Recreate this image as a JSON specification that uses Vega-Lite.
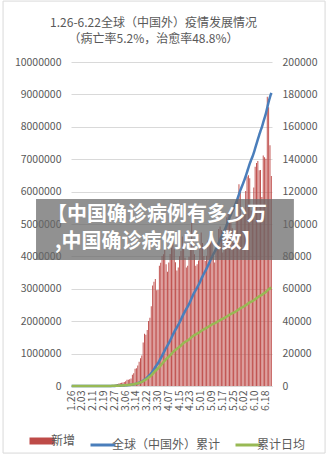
{
  "$schema": "https://vega.github.io/schema/vega-lite/v6.json",
  "width": 201,
  "height": 324,
  "autosize": {"type": "none"},
  "padding": {"left": 71, "top": 62, "right": 59, "bottom": 75},
  "background": "white",
  "config": {
    "view": {"stroke": null},
    "font": "Noto Sans CJK SC",
    "axis": {"labelFont": "Noto Sans CJK SC", "labelColor": "#595959", "labelFontSize": 10.5, "title": null}
  },
  "title": {
    "text": ["1.26-6.22全球（中国外）疫情发展情况", "（病亡率5.2%，治愈率48.8%）"],
    "fontSize": 12,
    "fontWeight": "normal",
    "color": "#595959",
    "font": "Noto Sans CJK SC",
    "lineHeight": 16,
    "anchor": "middle",
    "frame": "group",
    "dx": -18,
    "baseline": "bottom",
    "offset": -57
  },
  "datasets": {
    "main": [
      {"d":"1.26","n":12,"c":42,"a":42},{"d":"1.27","n":14,"c":56,"a":28},{"d":"1.28","n":8,"c":64,"a":21},{"d":"1.29","n":14,"c":78,"a":20},{"d":"1.30","n":16,"c":94,"a":19},{"d":"1.31","n":24,"c":118,"a":20},
      {"d":"2.01","n":14,"c":132,"a":19},{"d":"2.02","n":14,"c":146,"a":18},{"d":"2.03","n":7,"c":153,"a":17},{"d":"2.04","n":23,"c":176,"a":18},{"d":"2.05","n":15,"c":191,"a":17},{"d":"2.06","n":25,"c":216,"a":18},{"d":"2.07","n":54,"c":270,"a":21},{"d":"2.08","n":18,"c":288,"a":21},{"d":"2.09","n":19,"c":307,"a":20},{"d":"2.10","n":12,"c":319,"a":20},
      {"d":"2.11","n":76,"c":395,"a":23},{"d":"2.12","n":46,"c":441,"a":25},{"d":"2.13","n":6,"c":447,"a":24},{"d":"2.14","n":58,"c":505,"a":25},{"d":"2.15","n":21,"c":526,"a":25},{"d":"2.16","n":164,"c":690,"a":31},{"d":"2.17","n":104,"c":794,"a":35},{"d":"2.18","n":10,"c":804,"a":34},{"d":"2.19","n":120,"c":924,"a":37},{"d":"2.20","n":152,"c":1076,"a":41},
      {"d":"2.21","n":124,"c":1200,"a":44},{"d":"2.22","n":302,"c":1502,"a":54},{"d":"2.23","n":398,"c":1900,"a":66},{"d":"2.24","n":269,"c":2169,"a":72},{"d":"2.25","n":392,"c":2561,"a":83},{"d":"2.26","n":508,"c":3069,"a":96},{"d":"2.27","n":770,"c":3839,"a":116},{"d":"2.28","n":1015,"c":4854,"a":143},{"d":"2.29","n":1240,"c":6094,"a":174},
      {"d":"3.01","n":1600,"c":7694,"a":214},{"d":"3.02","n":1800,"c":9494,"a":257},{"d":"3.03","n":2050,"c":11544,"a":304},{"d":"3.04","n":2200,"c":13744,"a":352},{"d":"3.05","n":2450,"c":16194,"a":405},{"d":"3.06","n":3000,"c":19194,"a":468},{"d":"3.07","n":3800,"c":22994,"a":547},{"d":"3.08","n":3900,"c":26894,"a":625},{"d":"3.09","n":4200,"c":31094,"a":707},{"d":"3.10","n":4600,"c":35694,"a":793},
      {"d":"3.11","n":6900,"c":42594,"a":926},{"d":"3.12","n":7800,"c":50394,"a":1072},{"d":"3.13","n":10600,"c":60994,"a":1271},{"d":"3.14","n":10900,"c":71894,"a":1467},{"d":"3.15","n":12600,"c":84494,"a":1690},{"d":"3.16","n":14900,"c":99394,"a":1949},{"d":"3.17","n":17100,"c":116494,"a":2240},{"d":"3.18","n":18900,"c":135394,"a":2555},{"d":"3.19","n":26800,"c":162194,"a":3004},{"d":"3.20","n":32300,"c":194494,"a":3536},
      {"d":"3.21","n":31700,"c":226194,"a":4039},{"d":"3.22","n":34500,"c":260694,"a":4574},{"d":"3.23","n":40200,"c":300894,"a":5188},{"d":"3.24","n":42100,"c":342994,"a":5813},{"d":"3.25","n":49300,"c":392294,"a":6538},{"d":"3.26","n":62100,"c":454394,"a":7449},{"d":"3.27","n":64400,"c":518794,"a":8368},{"d":"3.28","n":66000,"c":584794,"a":9282},{"d":"3.29","n":59100,"c":643894,"a":10061},{"d":"3.30","n":59300,"c":703194,"a":10818},{"d":"3.31","n":74200,"c":777394,"a":11779},
      {"d":"4.01","n":76100,"c":853494,"a":12738},{"d":"4.02","n":80300,"c":933794,"a":13732},{"d":"4.03","n":81400,"c":1015194,"a":14713},{"d":"4.04","n":84400,"c":1099594,"a":15708},{"d":"4.05","n":75200,"c":1174794,"a":16546},{"d":"4.06","n":70600,"c":1245394,"a":17297},{"d":"4.07","n":76300,"c":1321694,"a":18105},{"d":"4.08","n":81500,"c":1403194,"a":18962},{"d":"4.09","n":85300,"c":1488494,"a":19847},{"d":"4.10","n":91200,"c":1579694,"a":20785},
      {"d":"4.11","n":84500,"c":1664194,"a":21613},{"d":"4.12","n":76400,"c":1740594,"a":22315},{"d":"4.13","n":71300,"c":1811894,"a":22935},{"d":"4.14","n":73200,"c":1885094,"a":23564},{"d":"4.15","n":80100,"c":1965194,"a":24262},{"d":"4.16","n":83400,"c":2048594,"a":24983},{"d":"4.17","n":92300,"c":2140894,"a":25794},{"d":"4.18","n":84700,"c":2225594,"a":26495},{"d":"4.19","n":79200,"c":2304794,"a":27115},{"d":"4.20","n":73100,"c":2377894,"a":27650},
      {"d":"4.21","n":74300,"c":2452194,"a":28186},{"d":"4.22","n":79800,"c":2531994,"a":28773},{"d":"4.23","n":84500,"c":2616494,"a":29399},{"d":"4.24","n":101200,"c":2717694,"a":30197},{"d":"4.25","n":90300,"c":2807994,"a":30857},{"d":"4.26","n":81400,"c":2889394,"a":31406},{"d":"4.27","n":74200,"c":2963594,"a":31867},{"d":"4.28","n":75100,"c":3038694,"a":32326},{"d":"4.29","n":77400,"c":3116094,"a":32801},{"d":"4.30","n":85200,"c":3201294,"a":33347},
      {"d":"5.01","n":94700,"c":3295994,"a":33979},{"d":"5.02","n":88200,"c":3384194,"a":34533},{"d":"5.03","n":80300,"c":3464494,"a":34995},{"d":"5.04","n":77100,"c":3541594,"a":35416},{"d":"5.05","n":80400,"c":3621994,"a":35861},{"d":"5.06","n":89800,"c":3711794,"a":36390},{"d":"5.07","n":88400,"c":3800194,"a":36895},{"d":"5.08","n":95100,"c":3895294,"a":37455},{"d":"5.09","n":89300,"c":3984594,"a":37948},{"d":"5.10","n":82100,"c":4066694,"a":38365},
      {"d":"5.11","n":76200,"c":4142894,"a":38719},{"d":"5.12","n":84300,"c":4227194,"a":39141},{"d":"5.13","n":87400,"c":4314594,"a":39584},{"d":"5.14","n":96900,"c":4411494,"a":40105},{"d":"5.15","n":98400,"c":4509894,"a":40630},{"d":"5.16","n":96100,"c":4605994,"a":41125},{"d":"5.17","n":82400,"c":4688394,"a":41490},{"d":"5.18","n":88300,"c":4776694,"a":41901},{"d":"5.19","n":94500,"c":4871194,"a":42358},{"d":"5.20","n":104200,"c":4975394,"a":42891},
      {"d":"5.21","n":106300,"c":5081694,"a":43433},{"d":"5.22","n":107400,"c":5189094,"a":43975},{"d":"5.23","n":101500,"c":5290594,"a":44459},{"d":"5.24","n":97400,"c":5387994,"a":44900},{"d":"5.25","n":88200,"c":5476194,"a":45258},{"d":"5.26","n":91300,"c":5567494,"a":45635},{"d":"5.27","n":105400,"c":5672894,"a":46121},{"d":"5.28","n":117200,"c":5790094,"a":46694},{"d":"5.29","n":124600,"c":5914694,"a":47318},{"d":"5.30","n":121300,"c":6035994,"a":47905},{"d":"5.31","n":106200,"c":6142194,"a":48364},
      {"d":"6.01","n":104500,"c":6246694,"a":48802},{"d":"6.02","n":107100,"c":6353794,"a":49254},{"d":"6.03","n":120400,"c":6474194,"a":49801},{"d":"6.04","n":129300,"c":6603494,"a":50408},{"d":"6.05","n":130100,"c":6733594,"a":51012},{"d":"6.06","n":128200,"c":6861794,"a":51592},{"d":"6.07","n":108400,"c":6970194,"a":52016},{"d":"6.08","n":104300,"c":7074494,"a":52404},{"d":"6.09","n":122600,"c":7197094,"a":52920},{"d":"6.10","n":135300,"c":7332394,"a":53521},
      {"d":"6.11","n":137600,"c":7469994,"a":54130},{"d":"6.12","n":138900,"c":7608894,"a":54740},{"d":"6.13","n":133200,"c":7742094,"a":55301},{"d":"6.14","n":133400,"c":7875494,"a":55855},{"d":"6.15","n":116700,"c":7992194,"a":56285},{"d":"6.16","n":142300,"c":8134494,"a":56885},{"d":"6.17","n":141200,"c":8275694,"a":57470},{"d":"6.18","n":140300,"c":8415994,"a":58041},{"d":"6.19","n":178500,"c":8594494,"a":58866},{"d":"6.20","n":172100,"c":8766594,"a":59637},{"d":"6.21","n":148600,"c":8915194,"a":60238},{"d":"6.22","n":129700,"c":9044894,"a":60704}
    ],
    "wm": [{"t1": "【中国确诊病例有多少万", "t2": ",中国确诊病例总人数】"}]
  },
  "layer": [
    {
      "data": {"name": "main"},
      "layer": [
        {
          "mark": {"type": "bar", "color": "#be4b48"},
          "encoding": {
            "x": {"field": "d", "type": "ordinal", "sort": null,
                  "scale": {"paddingInner": 0.3, "paddingOuter": 0.15},
                  "axis": {"values": ["1.26","2.03","2.11","2.19","2.27","3.06","3.14","3.22","3.30","4.07","4.15","4.23","5.01","5.09","5.17","5.25","6.02","6.10","6.18"],
                           "labelAngle": -90, "ticks": false, "domainColor": "#d9d9d9", "labelPadding": 4, "labelFontSize": 10.5}},
            "y": {"field": "n", "type": "quantitative", "scale": {"domain": [0, 200000]},
                  "axis": {"orient": "right", "values": [0,20000,40000,60000,80000,100000,120000,140000,160000,180000,200000], "format": "d", "grid": false, "domain": false, "ticks": false, "labelPadding": 10}},
            "color": {"datum": "新增", "type": "nominal",
                      "scale": {"domain": ["新增", "全球（中国外）累计", "累计日均"], "range": ["#be4b48", "#4a7ebb", "#98b954"]},
                      "legend": {"orient": "none", "legendX": -35, "legendY": 373, "direction": "horizontal", "title": null,
                                 "symbolType": "stroke", "symbolSize": 625, "symbolStrokeWidth": 3, "padding": 0,
                                 "labelFontSize": 12, "labelColor": "#595959", "labelFont": "Noto Sans CJK SC", "labelOffset": 3, "columnPadding": 8, "labelLimit": 200,
                                 "encode": {"symbols": {"update": {"stroke": {"scale": "color", "field": "value"}, "strokeWidth": {"signal": "datum.value === '新增' ? 7 : 3"}}}}}}
          }
        },
        {
          "mark": {"type": "line", "strokeWidth": 2.5, "interpolate": "monotone"},
          "encoding": {
            "x": {"field": "d", "type": "ordinal", "sort": null},
            "y": {"field": "c", "type": "quantitative", "scale": {"domain": [0, 10000000]},
                  "axis": {"orient": "left", "values": [0,1000000,2000000,3000000,4000000,5000000,6000000,7000000,8000000,9000000,10000000], "format": "d", "grid": true, "gridColor": "#d9d9d9", "domain": false, "ticks": false, "labelPadding": 10}},
            "color": {"datum": "全球（中国外）累计", "type": "nominal"}
          }
        },
        {
          "mark": {"type": "line", "strokeWidth": 2.5, "interpolate": "monotone"},
          "encoding": {
            "x": {"field": "d", "type": "ordinal", "sort": null},
            "y": {"field": "a", "type": "quantitative", "scale": {"domain": [0, 200000]}, "axis": null},
            "color": {"datum": "累计日均", "type": "nominal"}
          }
        }
      ],
      "resolve": {"scale": {"y": "independent"}}
    },
    {
      "data": {"name": "wm"},
      "layer": [
        {
          "mark": {"type": "rect", "fill": null, "stroke": "#d9d9d9", "strokeWidth": 1, "clip": false},
          "encoding": {
            "x": {"datum": -0.338, "type": "quantitative", "scale": {"domain": [0, 1]}, "axis": null},
            "x2": {"datum": 1.264},
            "y": {"datum": 1.188, "type": "quantitative", "scale": {"domain": [0, 1]}, "axis": null},
            "y2": {"datum": -0.207}
          }
        },
        {
          "mark": {"type": "rect", "fill": "#666666", "opacity": 0.72, "clip": false},
          "encoding": {
            "x": {"datum": -0.174, "type": "quantitative"},
            "x2": {"datum": 1.109},
            "y": {"datum": 0.577, "type": "quantitative"},
            "y2": {"datum": 0.389}
          }
        },
        {
          "mark": {"type": "text", "color": "white", "fontWeight": "bold", "fontSize": 20, "font": "Noto Sans CJK SC", "align": "left", "baseline": "middle", "clip": false},
          "encoding": {
            "x": {"datum": -0.12, "type": "quantitative"},
            "y": {"datum": 0.528, "type": "quantitative"},
            "text": {"field": "t1"}
          }
        },
        {
          "mark": {"type": "text", "color": "white", "fontWeight": "bold", "fontSize": 20, "font": "Noto Sans CJK SC", "align": "left", "baseline": "middle", "clip": false},
          "encoding": {
            "x": {"datum": -0.08, "type": "quantitative"},
            "y": {"datum": 0.444, "type": "quantitative"},
            "text": {"field": "t2"}
          }
        }
      ]
    }
  ],
  "resolve": {"scale": {"x": "independent", "y": "independent"}}
}
